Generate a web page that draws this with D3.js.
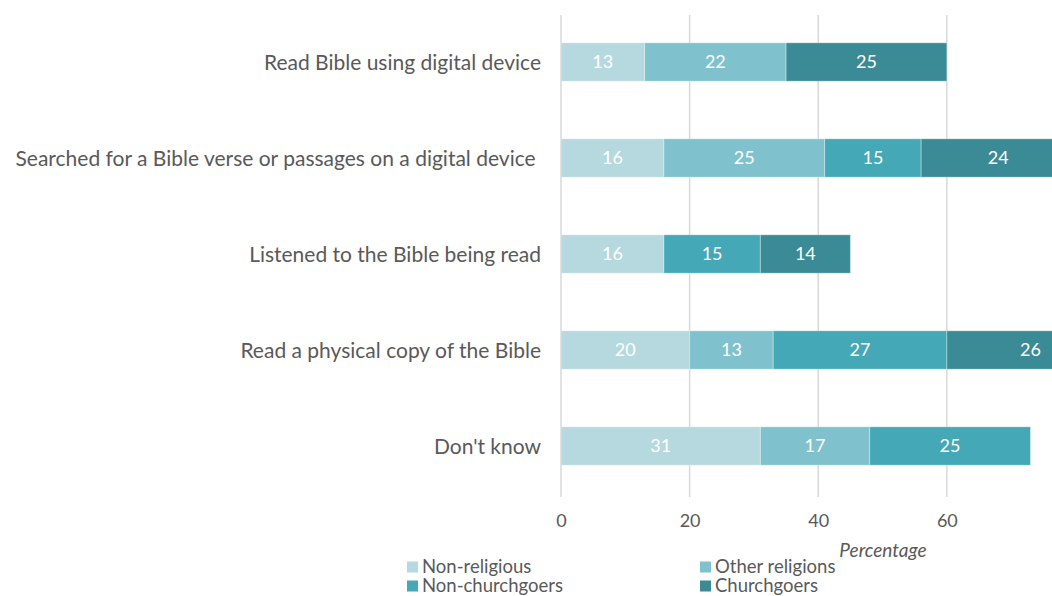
<!DOCTYPE html>
<html><head><meta charset="utf-8">
<script src="https://cdn.jsdelivr.net/npm/d3@7"></script>
<style>body{margin:0;background:#fff;}svg{display:block;}</style>
</head><body>
<svg id="c" width="1052" height="596"></svg>
<script>
const categories = ["Read Bible using digital device","Searched for a Bible verse or passages on a digital device ","Listened to the Bible being read","Read a physical copy of the Bible","Don't know"];
const seriesNames = ["Non-religious","Other religions","Non-churchgoers","Churchgoers"];
const nonReligious   = [13,16,16,20,31];
const otherReligions = [22,25,0,13,17];
const nonChurchgoers = [0,15,15,27,25];
const churchgoers    = [25,24,14,26,0];
const tickValues = [0,20,40,60];
const colors = ["#b5d9df","#7fc2cd","#45a8b6","#3a8b96"];

(function(){
const data = categories.map((c,i)=>({cat:c,"Non-religious":nonReligious[i],"Other religions":otherReligions[i],"Non-churchgoers":nonChurchgoers[i],"Churchgoers":churchgoers[i]}));
const stack = d3.stack().keys(seriesNames)(data);

const svg = d3.select("#c");
const pLeft = 561, pRight = 1052, pTop = 15, pBottom = 497;
const x = d3.scaleLinear().domain([0,76.35]).range([pLeft,pRight]);
const y = d3.scaleBand().domain(categories).range([14,494]).paddingInner(0.6).paddingOuter(0.3);
const font = "Lato, 'Open Sans', sans-serif";

svg.append("g").selectAll("line").data(tickValues).join("line")
  .attr("x1",d=>x(d)).attr("x2",d=>x(d)).attr("y1",pTop).attr("y2",pBottom)
  .attr("stroke","#d9d9d9").attr("stroke-width",1.5);

svg.append("clipPath").attr("id","clip").append("rect").attr("x",pLeft).attr("y",0).attr("width",pRight-pLeft).attr("height",596);

const g = svg.append("g").attr("clip-path","url(#clip)");
stack.forEach((s,si)=>{
  const sg = g.append("g");
  sg.selectAll("rect").data(s.filter(d=>d[1]>d[0])).join("rect")
    .attr("x",d=>x(d[0])).attr("width",d=>x(d[1])-x(d[0]))
    .attr("y",d=>y(d.data.cat)).attr("height",y.bandwidth())
    .attr("fill",colors[si]).attr("stroke","#ffffff").attr("stroke-opacity",0.35).attr("stroke-width",1);
  sg.selectAll("text").data(s.filter(d=>d[1]>d[0])).join("text")
    .attr("x",d=>(x(d[0])+x(d[1]))/2).attr("y",d=>y(d.data.cat)+y.bandwidth()/2)
    .attr("dy","0.36em").attr("text-anchor","middle").attr("fill","#ffffff")
    .style("font-family",font).style("font-size","18px")
    .text(d=>d[1]-d[0]);
});

svg.append("g").selectAll("text").data(categories).join("text")
  .attr("x",541).attr("y",d=>y(d)+y.bandwidth()/2).attr("dy","0.36em")
  .attr("text-anchor","end").attr("fill","#595959").style("white-space","pre")
  .style("font-family",font).style("font-size","21px").text(d=>d);

const ax = svg.append("g").attr("transform",`translate(0,${pBottom})`)
  .call(d3.axisBottom(x).tickValues(tickValues).tickSize(0).tickPadding(17));
ax.select(".domain").remove();
ax.selectAll("text").attr("fill","#595959").style("font-family",font).style("font-size","18px");

svg.append("text").attr("x",883).attr("y",550).attr("dy","0.36em").attr("text-anchor","middle")
  .attr("fill","#595959").style("font-family",font).style("font-style","italic").style("font-size","19px").text("Percentage");

const legPos = [[407,567],[700,567],[407,586],[700,586]];
const leg = svg.append("g").selectAll("g").data(seriesNames).join("g")
  .attr("transform",(d,i)=>`translate(${legPos[i][0]},${legPos[i][1]})`);
leg.append("rect").attr("x",0).attr("y",-5.5).attr("width",11).attr("height",11).attr("fill",(d,i)=>colors[i]);
leg.append("text").attr("x",15).attr("dy","0.34em").attr("fill","#595959")
  .style("font-family",font).style("font-size","18.5px").text(d=>d);
})();
</script>
</body></html>
